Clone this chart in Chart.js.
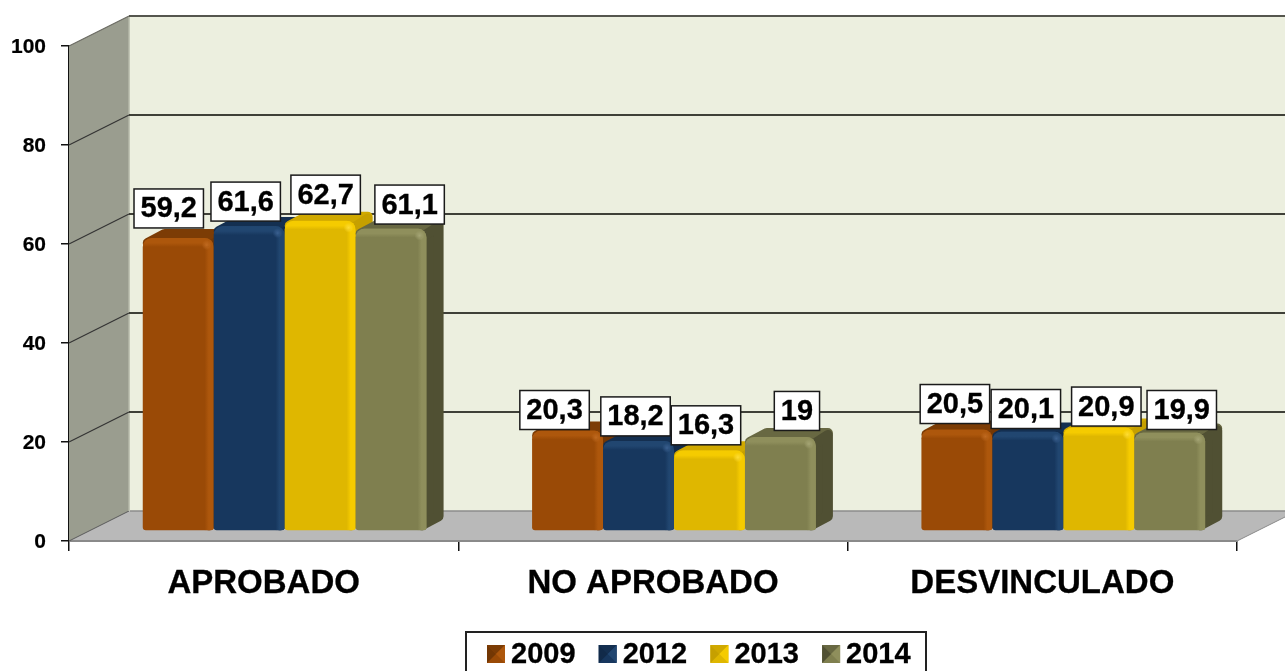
<!DOCTYPE html>
<html>
<head>
<meta charset="utf-8">
<style>html,body{margin:0;padding:0;background:#fff;overflow:hidden}canvas{display:block;filter:blur(0.45px)}</style>
<script src="https://cdn.jsdelivr.net/npm/chart.js@4"></script>
</head>
<body>
<canvas id="c" width="1285" height="671"></canvas>
<script>
const categories = ['APROBADO', 'NO APROBADO', 'DESVINCULADO'];
const years = ['2009', '2012', '2013', '2014'];
const v2009 = [59.2, 20.3, 20.5];
const v2012 = [61.6, 18.2, 20.1];
const v2013 = [62.7, 16.3, 20.9];
const v2014 = [61.1, 19, 19.9];
const seriesValues = [v2009, v2012, v2013, v2014];

// styling
const faceColors = ['#9A4A06', '#17375E', '#DFB700', '#7F7F4F'];
const lightColors = ['#AD570C', '#214670', '#F5CB00', '#8F8F5C'];
const hiColors = ['#C06A20', '#3A6090', '#FFDD33', '#A5A575'];
const topColors = ['#7C3C05', '#142F50', '#D0A900', '#686842'];
const sideColors = ['#733704', '#112A49', '#C6A000', '#505033'];
const FONT = '"Liberation Sans", Arial, sans-serif';

// 3D projection offsets
const WALL_DX = 60, WALL_DY = -30;     // front plane -> back wall
const BAR_DX = 21, BAR_DY = -10;       // front plane -> bar front
const EX_DX = 17, EX_DY = -9;          // bar front -> bar back

// label box nudges relative to the bar's top centre, [series][category]
const labelDx = [[-9.5, -13, -2], [-3.5, -3, -2], [5.5, -3.5, 7.5], [18.5, 16.5, 12]];
const labelDy = [[-29.5, -20.5, -25.5], [-24.5, -24.5, -22.5], [-26, -25, -21], [-24, -26, -22.5]];

function poly(ctx, pts, fill) {
  ctx.beginPath();
  pts.forEach((p, i) => i ? ctx.lineTo(p[0], p[1]) : ctx.moveTo(p[0], p[1]));
  ctx.closePath();
  ctx.fillStyle = fill;
  ctx.fill();
}
function line(ctx, x1, y1, x2, y2, col, w) {
  ctx.beginPath();
  ctx.moveTo(x1, y1);
  ctx.lineTo(x2, y2);
  ctx.strokeStyle = col;
  ctx.lineWidth = w;
  ctx.stroke();
}

const walls = {
  id: 'walls',
  beforeDatasetsDraw(chart) {
    const ctx = chart.ctx, y = chart.scales.y, a = chart.chartArea;
    const L = a.left, R = a.right, T = y.getPixelForValue(100), B = y.getPixelForValue(0);
    ctx.save();
    // back wall
    poly(ctx, [[L + WALL_DX, T + WALL_DY], [chart.width, T + WALL_DY], [chart.width, B + WALL_DY], [L + WALL_DX, B + WALL_DY]], '#ECEFDF');
    // side wall
    poly(ctx, [[L, T], [L + WALL_DX, T + WALL_DY], [L + WALL_DX, B + WALL_DY], [L, B]], '#9A9D8F');
    // floor
    poly(ctx, [[L, B], [L + WALL_DX, B + WALL_DY], [R + WALL_DX, B + WALL_DY], [R, B]], '#B9B9B9');
    line(ctx, L + WALL_DX + 1, B + WALL_DY, chart.width, B + WALL_DY, '#8C8C8C', 1.5);
    line(ctx, L, B, R, B, '#8A8A8A', 2);
    line(ctx, L, B, L + WALL_DX, B + WALL_DY, '#555', 1);
    line(ctx, R, B, R + WALL_DX, B + WALL_DY, '#8A8A8A', 1);
    line(ctx, L + WALL_DX, T + WALL_DY, L + WALL_DX, B + WALL_DY, '#B5B8A8', 1.5);
    line(ctx, L + WALL_DX, T + WALL_DY, chart.width, T + WALL_DY, '#55564E', 2);
    line(ctx, L, T, L + WALL_DX, T + WALL_DY, '#6A6A62', 1.2);
    // grid lines carried over both walls
    y.ticks.forEach(t => {
      if (t.value === 0 || t.value === 100) return;
      const p = y.getPixelForValue(t.value);
      line(ctx, L, p, L + WALL_DX, p + WALL_DY, '#333', 1.2);
      line(ctx, L + WALL_DX, p + WALL_DY, chart.width, p + WALL_DY, '#3F4038', 2);
    });
    ctx.restore();
  },
  beforeDatasetDraw() { return false; },
  afterDatasetsDraw(chart) {
    const ctx = chart.ctx;
    ctx.save();
    ctx.translate(BAR_DX, BAR_DY);
    chart.data.datasets.forEach((ds, s) => {
      chart.getDatasetMeta(s).data.forEach(el => {
        const l = el.x - el.width / 2, r = el.x + el.width / 2, t = el.y, b = el.base;
        const q = 5;
        ctx.lineJoin = 'round';
        // top
        ctx.lineWidth = 2 * q;
        ctx.strokeStyle = topColors[s];
        poly(ctx, [[l + q, t + q], [l + EX_DX + q, t + EX_DY + q], [r + EX_DX - q, t + EX_DY + q], [r - q, t + q]], topColors[s]);
        ctx.stroke();
        // side
        ctx.strokeStyle = sideColors[s];
        poly(ctx, [[r - q, t + q + 4], [r + EX_DX - q, t + EX_DY + q + 2], [r + EX_DX - q, b + EX_DY - q], [r - q, b - q]], sideColors[s]);
        ctx.stroke();
        // front, drawn by the library's own bar element
        el.draw(ctx);
        // bevel highlights
        ctx.save();
        ctx.beginPath();
        ctx.roundRect(l, t, r - l, b - t, [9, 9, 3, 3]);
        ctx.clip();
        const gr = ctx.createLinearGradient(r - 9, 0, r, 0);
        gr.addColorStop(0, faceColors[s]);
        gr.addColorStop(0.45, lightColors[s]);
        gr.addColorStop(1, lightColors[s]);
        ctx.fillStyle = gr;
        ctx.fillRect(r - 9, t, 9, b - t);
        const gt = ctx.createLinearGradient(0, t, 0, t + 9);
        gt.addColorStop(0, lightColors[s]);
        gt.addColorStop(0.55, lightColors[s]);
        gt.addColorStop(1, faceColors[s]);
        ctx.fillStyle = gt;
        ctx.fillRect(l, t, r - l - 5, 9);
        // corner glint
        const cx = r - 7, cy = t + 7;
        const gc = ctx.createRadialGradient(cx, cy, 0, cx, cy, 5);
        gc.addColorStop(0, hiColors[s]);
        gc.addColorStop(1, hiColors[s] + '00');
        ctx.fillStyle = gc;
        ctx.fillRect(cx - 5, cy - 5, 10, 10);
        ctx.restore();
      });
    });
    ctx.restore();
  }
};

const valueLabels = {
  id: 'valueLabels',
  afterDraw(chart) {
    const ctx = chart.ctx;
    ctx.save();
    ctx.font = 'bold 29px ' + FONT;
    ctx.textAlign = 'center';
    ctx.textBaseline = 'middle';
    chart.data.datasets.forEach((ds, s) => {
      chart.getDatasetMeta(s).data.forEach((el, i) => {
        const txt = String(ds.data[i]).replace('.', ',');
        const w = ctx.measureText(txt).width + 13;
        const cx = el.x + BAR_DX + labelDx[s][i];
        const cy = el.y + BAR_DY + labelDy[s][i];
        ctx.fillStyle = '#fff';
        ctx.fillRect(cx - w / 2, cy - 19.5, w, 39);
        ctx.strokeStyle = '#1a1a1a';
        ctx.lineWidth = 1.5;
        ctx.strokeRect(cx - w / 2, cy - 19.5, w, 39);
        ctx.fillStyle = '#000';
        ctx.strokeStyle = '#000';
        ctx.lineWidth = 0.3;
        ctx.fillText(txt, cx, cy + 1);
        ctx.strokeText(txt, cx, cy + 1);
      });
    });
    ctx.restore();
  }
};

const frameLegend = {
  id: 'frameLegend',
  afterDraw(chart) {
    const ctx = chart.ctx;
    ctx.save();
    ctx.fillStyle = '#fff';
    ctx.fillRect(466, 632, 460, 45);
    ctx.strokeStyle = '#222';
    ctx.lineWidth = 2;
    ctx.strokeRect(466, 632, 460, 45);
    ctx.font = 'bold 29px ' + FONT;
    ctx.textAlign = 'left';
    ctx.textBaseline = 'middle';
    chart.data.datasets.forEach((ds, s) => {
      const x = 487 + s * 111.7, y = 645, w = 18;
      poly(ctx, [[x, y], [x + w, y], [x + w, y + w], [x, y + w]], faceColors[s]);
      poly(ctx, [[x, y], [x + w, y], [x + w / 2, y + w / 2]], topColors[s]);
      poly(ctx, [[x + w, y], [x + w, y + w], [x + w / 2, y + w / 2]], lightColors[s]);
      poly(ctx, [[x, y], [x, y + w], [x + w / 2, y + w / 2]], sideColors[s]);
      ctx.fillStyle = '#000';
      ctx.strokeStyle = '#000';
      ctx.lineWidth = 0.3;
      ctx.fillText(ds.label, x + 24, 655);
      ctx.strokeText(ds.label, x + 24, 655);
    });
    ctx.restore();
  }
};

new Chart(document.getElementById('c'), {
  type: 'bar',
  data: {
    labels: categories,
    datasets: years.map((y, s) => ({
      label: y,
      data: seriesValues[s],
      backgroundColor: faceColors[s],
      borderWidth: 0,
      borderRadius: { topLeft: 9, topRight: 9, bottomLeft: 3, bottomRight: 3 },
      borderSkipped: false,
      categoryPercentage: 0.729,
      barPercentage: 1
    }))
  },
  options: {
    responsive: false,
    animation: false,
    layout: { padding: { top: 46, right: 48, left: 0, bottom: 0 } },
    plugins: { legend: { display: false }, tooltip: { enabled: false }, title: { display: false } },
    scales: {
      x: {
        afterFit(a) { a.height = 130; },
        grid: { drawOnChartArea: false, drawTicks: true, tickLength: 10, color: '#111', lineWidth: 1.5 },
        border: { display: false },
        ticks: { color: '#000', font: { family: FONT, size: 33, weight: 'bold' }, padding: 13, maxRotation: 0, textStrokeColor: '#000', textStrokeWidth: 0.3 }
      },
      y: {
        min: 0, max: 100,
        afterFit(a) { a.width = 69; },
        grid: { drawOnChartArea: false, drawTicks: true, tickLength: 8, color: '#111', lineWidth: 1.5 },
        border: { display: true, color: '#111', width: 2 },
        ticks: { stepSize: 20, color: '#000', font: { family: FONT, size: 21, weight: 'bold' }, padding: 15, labelOffset: 1.5, textStrokeColor: '#000', textStrokeWidth: 0.2 }
      }
    }
  },
  plugins: [walls, valueLabels, frameLegend]
});
</script>
</body>
</html>
